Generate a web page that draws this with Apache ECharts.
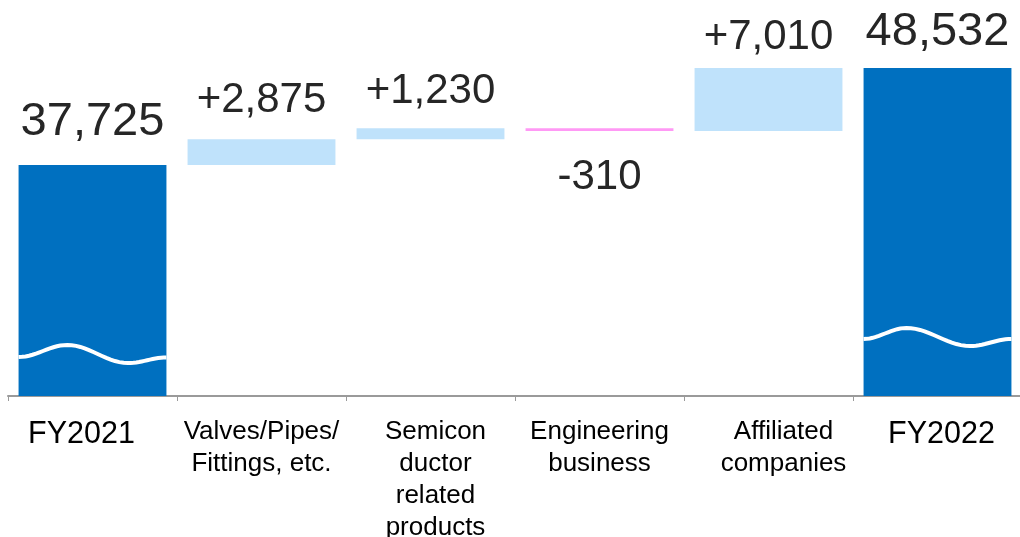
<!DOCTYPE html>
<html>
<head>
<meta charset="utf-8">
<script src="https://cdn.jsdelivr.net/npm/echarts@6/dist/echarts.min.js"></script>
<style>
html,body{margin:0;padding:0;background:#fff;}
#main{width:1020px;height:537px;}
</style>
</head>
<body>
<div id="main"></div>
<script>
// ---- data ----
var categories = ['FY2021', 'Valves/Pipes/\nFittings, etc.', 'Semicon\nductor\nrelated\nproducts', 'Engineering\nbusiness', 'Affiliated\ncompanies', 'FY2022'];
var totals = [37725, null, null, null, null, 48532];
var changes = [null, 2875, 1230, -310, 7010, null];
var axisMin = 12000;

// ---- styling (label placement per category) ----
var labelDist = {0: 20, 1: 18, 2: 16, 3: 25, 4: 10, 5: 13};
var labelShift = {0: [5,22,0,0], 2: [0,0,0,10], 4: [0,0,0,30], 5: [5,0,0,8]};

// ---- derived stacks ----
function item(v, i){ return v === '-' ? '-' : {value: v, label: {distance: labelDist[i]}}; }
var baseData = [], incData = [], decData = [], totData = [];
var running = 0;
for (var i = 0; i < categories.length; i++) {
  if (totals[i] != null) {
    running = totals[i];
    baseData.push('-'); incData.push('-'); decData.push('-'); totData.push(item(totals[i], i));
  } else {
    var c = changes[i];
    if (c >= 0) {
      baseData.push(running); incData.push(item(c, i)); decData.push('-');
    } else {
      baseData.push(running + c); incData.push('-'); decData.push(item(-c, i));
    }
    totData.push('-');
    running += c;
  }
}
function fmt(v){ return Math.round(v).toLocaleString('en-US'); }

var FONT = '"Liberation Sans", Arial, Helvetica, sans-serif';

var rich = {};
categories.forEach(function(c, i){
  var isFY = totals[i] != null;
  var st = {fontSize: isFY ? 30.5 : 26, lineHeight: 32, color: '#000', fontFamily: FONT, align: 'center'};
  if (labelShift[i]) st.padding = labelShift[i];
  rich['c' + i] = st;
});

var chart = echarts.init(document.getElementById('main'), null, {renderer: 'canvas'});
var option = {
  animation: false,
  backgroundColor: '#fff',
  grid: {left: 8, right: -2, top: 0, bottom: 141, containLabel: false, outerBoundsMode: 'none'},
  xAxis: {
    type: 'category',
    data: categories,
    axisLine: {lineStyle: {color: '#9a9a9a', width: 2}},
    axisTick: {show: true, length: 5, lineStyle: {color: '#9a9a9a', width: 1}},
    axisLabel: {
      margin: 20,
      interval: 0,
      verticalAlign: 'top',
      formatter: function(v, idx){
        return v.split('\n').map(function(l){ return '{c' + idx + '|' + l + '}'; }).join('\n');
      },
      rich: rich
    }
  },
  yAxis: {type: 'value', min: axisMin, max: 56118, show: false, splitLine: {show: false}},
  series: [
    {type: 'bar', stack: 'w', data: baseData, barWidth: '87.5%', itemStyle: {color: 'transparent'}, silent: true},
    {type: 'bar', stack: 'w', data: incData, barWidth: '87.5%', itemStyle: {color: '#BFE2FB'},
      label: {show: true, position: 'top', fontSize: 42, color: '#262626', fontFamily: FONT,
        formatter: function(p){ return '+' + fmt(p.value); }}},
    {type: 'bar', stack: 'w', data: decData, barWidth: '87.5%', itemStyle: {color: '#FF99F5'},
      label: {show: true, position: 'bottom', fontSize: 42, color: '#262626', fontFamily: FONT,
        formatter: function(p){ return '-' + fmt(p.value); }}},
    {type: 'bar', stack: 'w', data: totData, barWidth: '87.5%', itemStyle: {color: '#0070C0'},
      label: {show: true, position: 'top', fontSize: 47, color: '#262626', fontFamily: FONT,
        formatter: function(p){ return fmt(p.value); }}},
    {type: 'custom', z: 10, silent: true,
      data: totals.map(function(t, i){ return t != null ? [i, axisMin] : null; }).filter(function(d){ return d; }),
      encode: {x: 0, y: 1},
      renderItem: function(params, api){
        var idx = api.value(0);
        var p = api.coord([idx, axisMin]);
        var w = api.size([1, 0])[0] * 0.875;
        var x0 = p[0] - w / 2;
        var lift = idx === 0 ? 42 : 59;
        var cy = p[1] - lift;
        var keys = idx === 0 ? [[0,3],[0.33,-9],[0.74,9],[1,3.5]] : [[0,2],[0.29,-9],[0.72,9],[1,2]];
        var pts = [];
        for (var k = 0; k < keys.length - 1; k++) {
          var a = keys[k], b = keys[k+1];
          var n = 14;
          for (var s = 0; s <= n; s++) {
            if (k > 0 && s === 0) continue;
            var t = s / n;
            var e = (1 - Math.cos(Math.PI * t)) / 2;
            pts.push([x0 + (a[0] + (b[0]-a[0]) * t) * w, cy + a[1] + (b[1]-a[1]) * e]);
          }
        }
        return {type: 'polyline', shape: {points: pts}, style: {stroke: '#ffffff', lineWidth: 4, fill: null}};
      }
    }
  ]
};
chart.setOption(option);
</script>
</body>
</html>
